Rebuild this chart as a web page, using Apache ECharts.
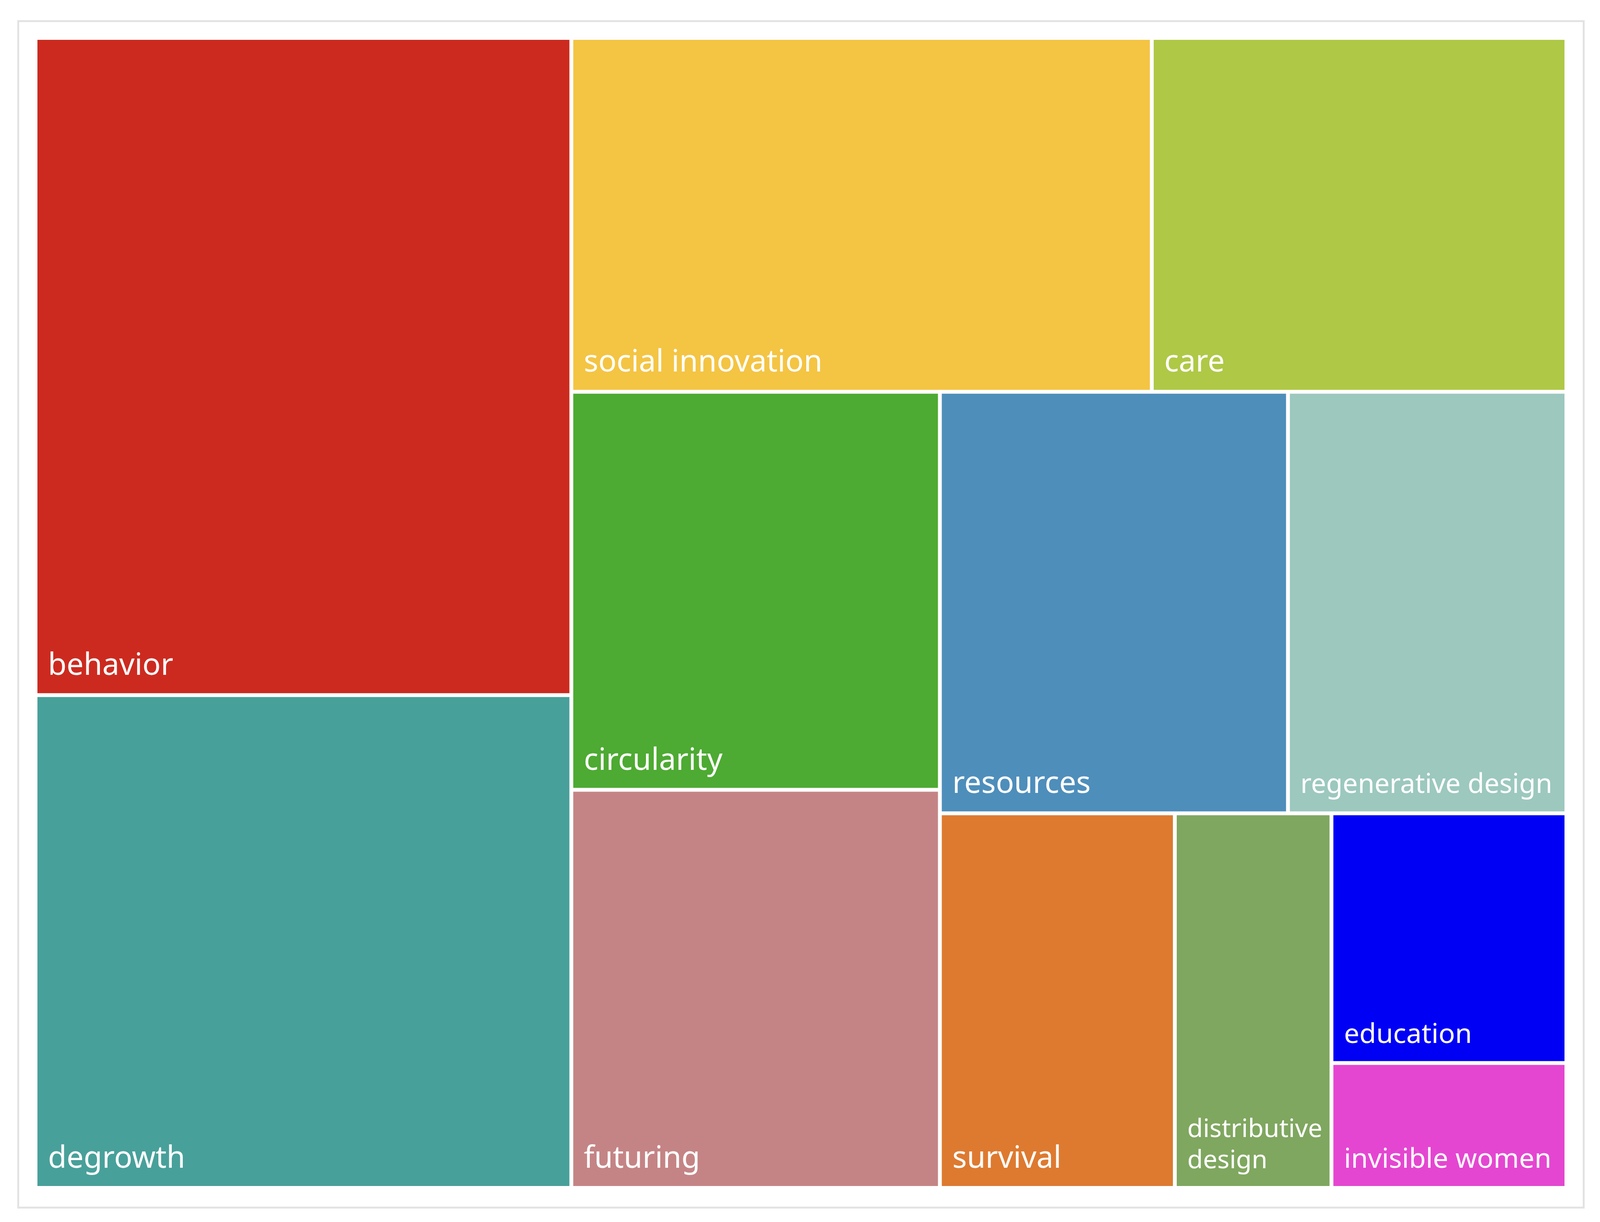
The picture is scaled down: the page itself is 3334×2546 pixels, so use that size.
<!DOCTYPE html>
<html>
<head>
<meta charset="utf-8">
<title>treemap</title>
<script src="https://cdn.jsdelivr.net/npm/echarts@6/dist/echarts.min.js"></script>
<style>
  html, body { margin: 0; padding: 0; background: #fff; }
  #main { width: 3334px; height: 2546px; }
</style>
</head>
<body>
<div id="main"></div>
<script>
// topics and their counts, biggest first (layout follows this order)
var topics = ['behavior', 'degrowth', 'social innovation', 'care', 'circularity', 'futuring',
              'resources', 'regenerative design', 'survival', 'distributive design', 'education', 'invisible women'];
var counts = [12, 9, 7, 5, 5, 5, 5, 4, 3, 2, 2, 1];

// one colour per topic
var colors = ['#cc2a1f', '#48a09a', '#f4c443', '#afc846', '#4daa32', '#c48485',
              '#4e8ebb', '#9cc8be', '#dd7a30', '#7fa75f', '#0000f5', '#e446d1'];

// labels that were shrunk to fit their box
var smallLabels = { 'regenerative design': 56, 'education': 57, 'invisible women': 57, 'distributive design': 53 };
// labels split over two lines
var wrapLabels = { 'distributive design': true };

var myChart = echarts.init(document.getElementById('main'));

var items = topics.map(function (t, i) {
    var it = {
        name: t,
        value: counts[i],
        itemStyle: { color: colors[i] }
    };
    if (smallLabels[t]) {
        it.label = { fontSize: smallLabels[t], lineHeight: smallLabels[t] + 12 };
        if (wrapLabels[t]) {
            it.label.formatter = function (p) { return p.name.split(' ').join('\n'); };
        }
    }
    return it;
});

var option = {
    backgroundColor: '#fff',
    animation: false,
    graphic: [{
        type: 'rect',
        shape: { x: 38, y: 44, width: 3262, height: 2472 },
        style: { fill: 'none', stroke: '#e3e3e3', lineWidth: 4 },
        silent: true
    }],
    series: [{
        type: 'treemap',
        left: 78,
        top: 83,
        width: 3182,
        height: 2388,
        roam: false,
        nodeClick: false,
        sort: false,
        squareRatio: 0.8,   // gives the same split as the original
        breadcrumb: { show: false },
        itemStyle: {
            borderWidth: 0,
            gapWidth: 8,
            borderColor: '#fff'
        },
        label: {
            show: true,
            position: 'insideBottomLeft',
            color: '#fff',
            fontSize: 63,
            fontFamily: 'Noto Sans',
            lineHeight: 72,
            overflow: 'break',
            padding: [0, 10, 20, 22],
            formatter: '{b}'
        },
        emphasis: { disabled: true },
        data: items
    }]
};
myChart.setOption(option);
</script>
</body>
</html>
